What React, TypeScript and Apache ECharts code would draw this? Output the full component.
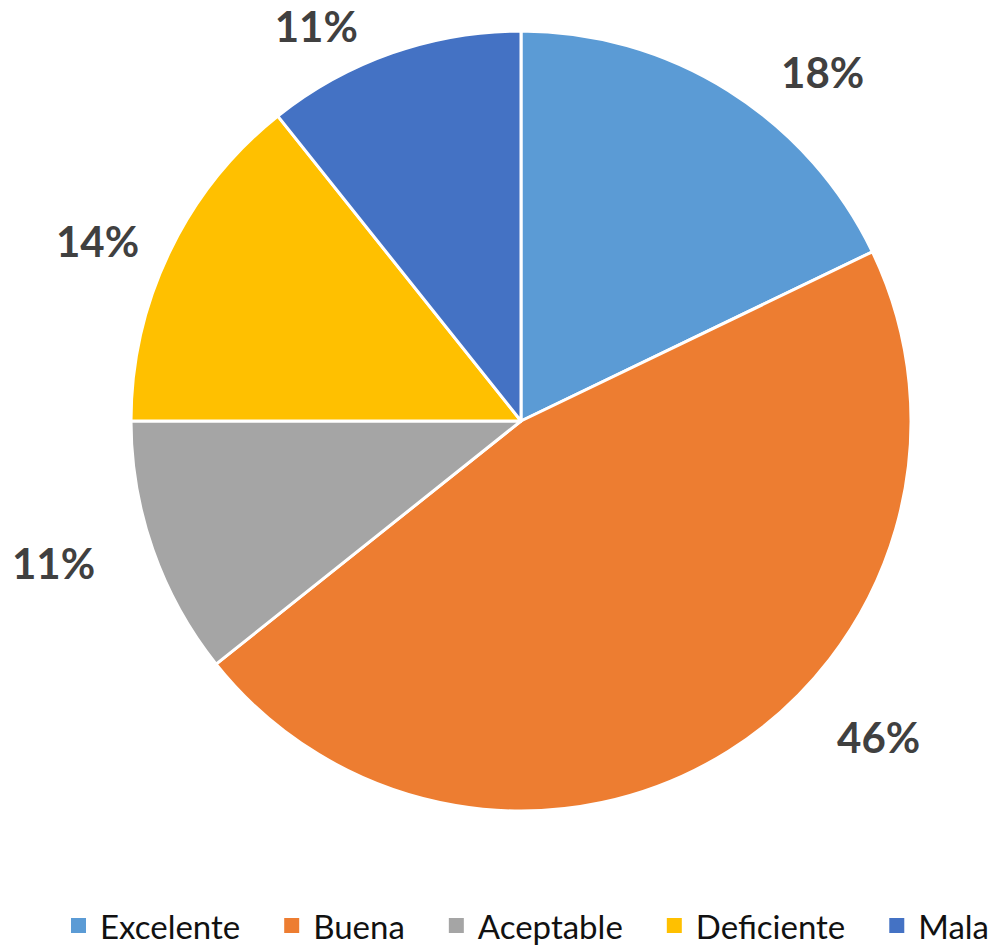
import React, { useEffect, useRef } from "react";
import * as echarts from "echarts";

const categories = ["Excelente", "Buena", "Aceptable", "Deficiente", "Mala"];
const counts = [5, 13, 3, 4, 3];
const colors = ["#5B9BD5", "#ED7D31", "#A5A5A5", "#FFC000", "#4472C4"];
// per-slice label offsets (label line lengths, line hidden)
const labelLen = [22.6, -17, 39, 24.7, 28.4];
const labelLen2 = [35.5, 112.6, 16, 3.3, 20];

export default function App() {
  const ref = useRef<HTMLDivElement>(null);
  useEffect(() => {
    if (!ref.current) return;
    const chart = echarts.init(ref.current, undefined, { renderer: "svg" });
    const total = counts.reduce((a, b) => a + b, 0);
    chart.setOption({
      animation: false,
      backgroundColor: "#ffffff",
      legend: {
        data: categories,
        bottom: 3,
        left: 64,
        icon: "rect",
        itemWidth: 17,
        itemHeight: 17,
        itemGap: 42,
        textStyle: {
          fontFamily: "Lato",
          fontSize: 33,
          color: "#111111",
          padding: [0, 0, 0, 8],
        },
      },
      series: [
        {
          type: "pie",
          center: [521, 421],
          radius: 390,
          startAngle: 90,
          clockwise: true,
          avoidLabelOverlap: false,
          itemStyle: { borderColor: "#ffffff", borderWidth: 3 },
          label: {
            show: true,
            position: "outside",
            fontFamily: "Lato",
            fontWeight: "bold",
            fontSize: 42,
            color: "#404040",
            formatter: (p: any) => Math.round((p.value / total) * 100) + "%",
          },
          labelLine: { show: false },
          emphasis: { disabled: true },
          data: categories.map((name, i) => ({
            name,
            value: counts[i],
            itemStyle: { color: colors[i] },
            labelLine: { show: false, length: labelLen[i], length2: labelLen2[i] },
          })),
        },
      ],
    });
    return () => chart.dispose();
  }, []);
  return (
    <div
      ref={ref}
      style={{ position: "absolute", left: 0, top: 0, width: 999, height: 950 }}
    />
  );
}
